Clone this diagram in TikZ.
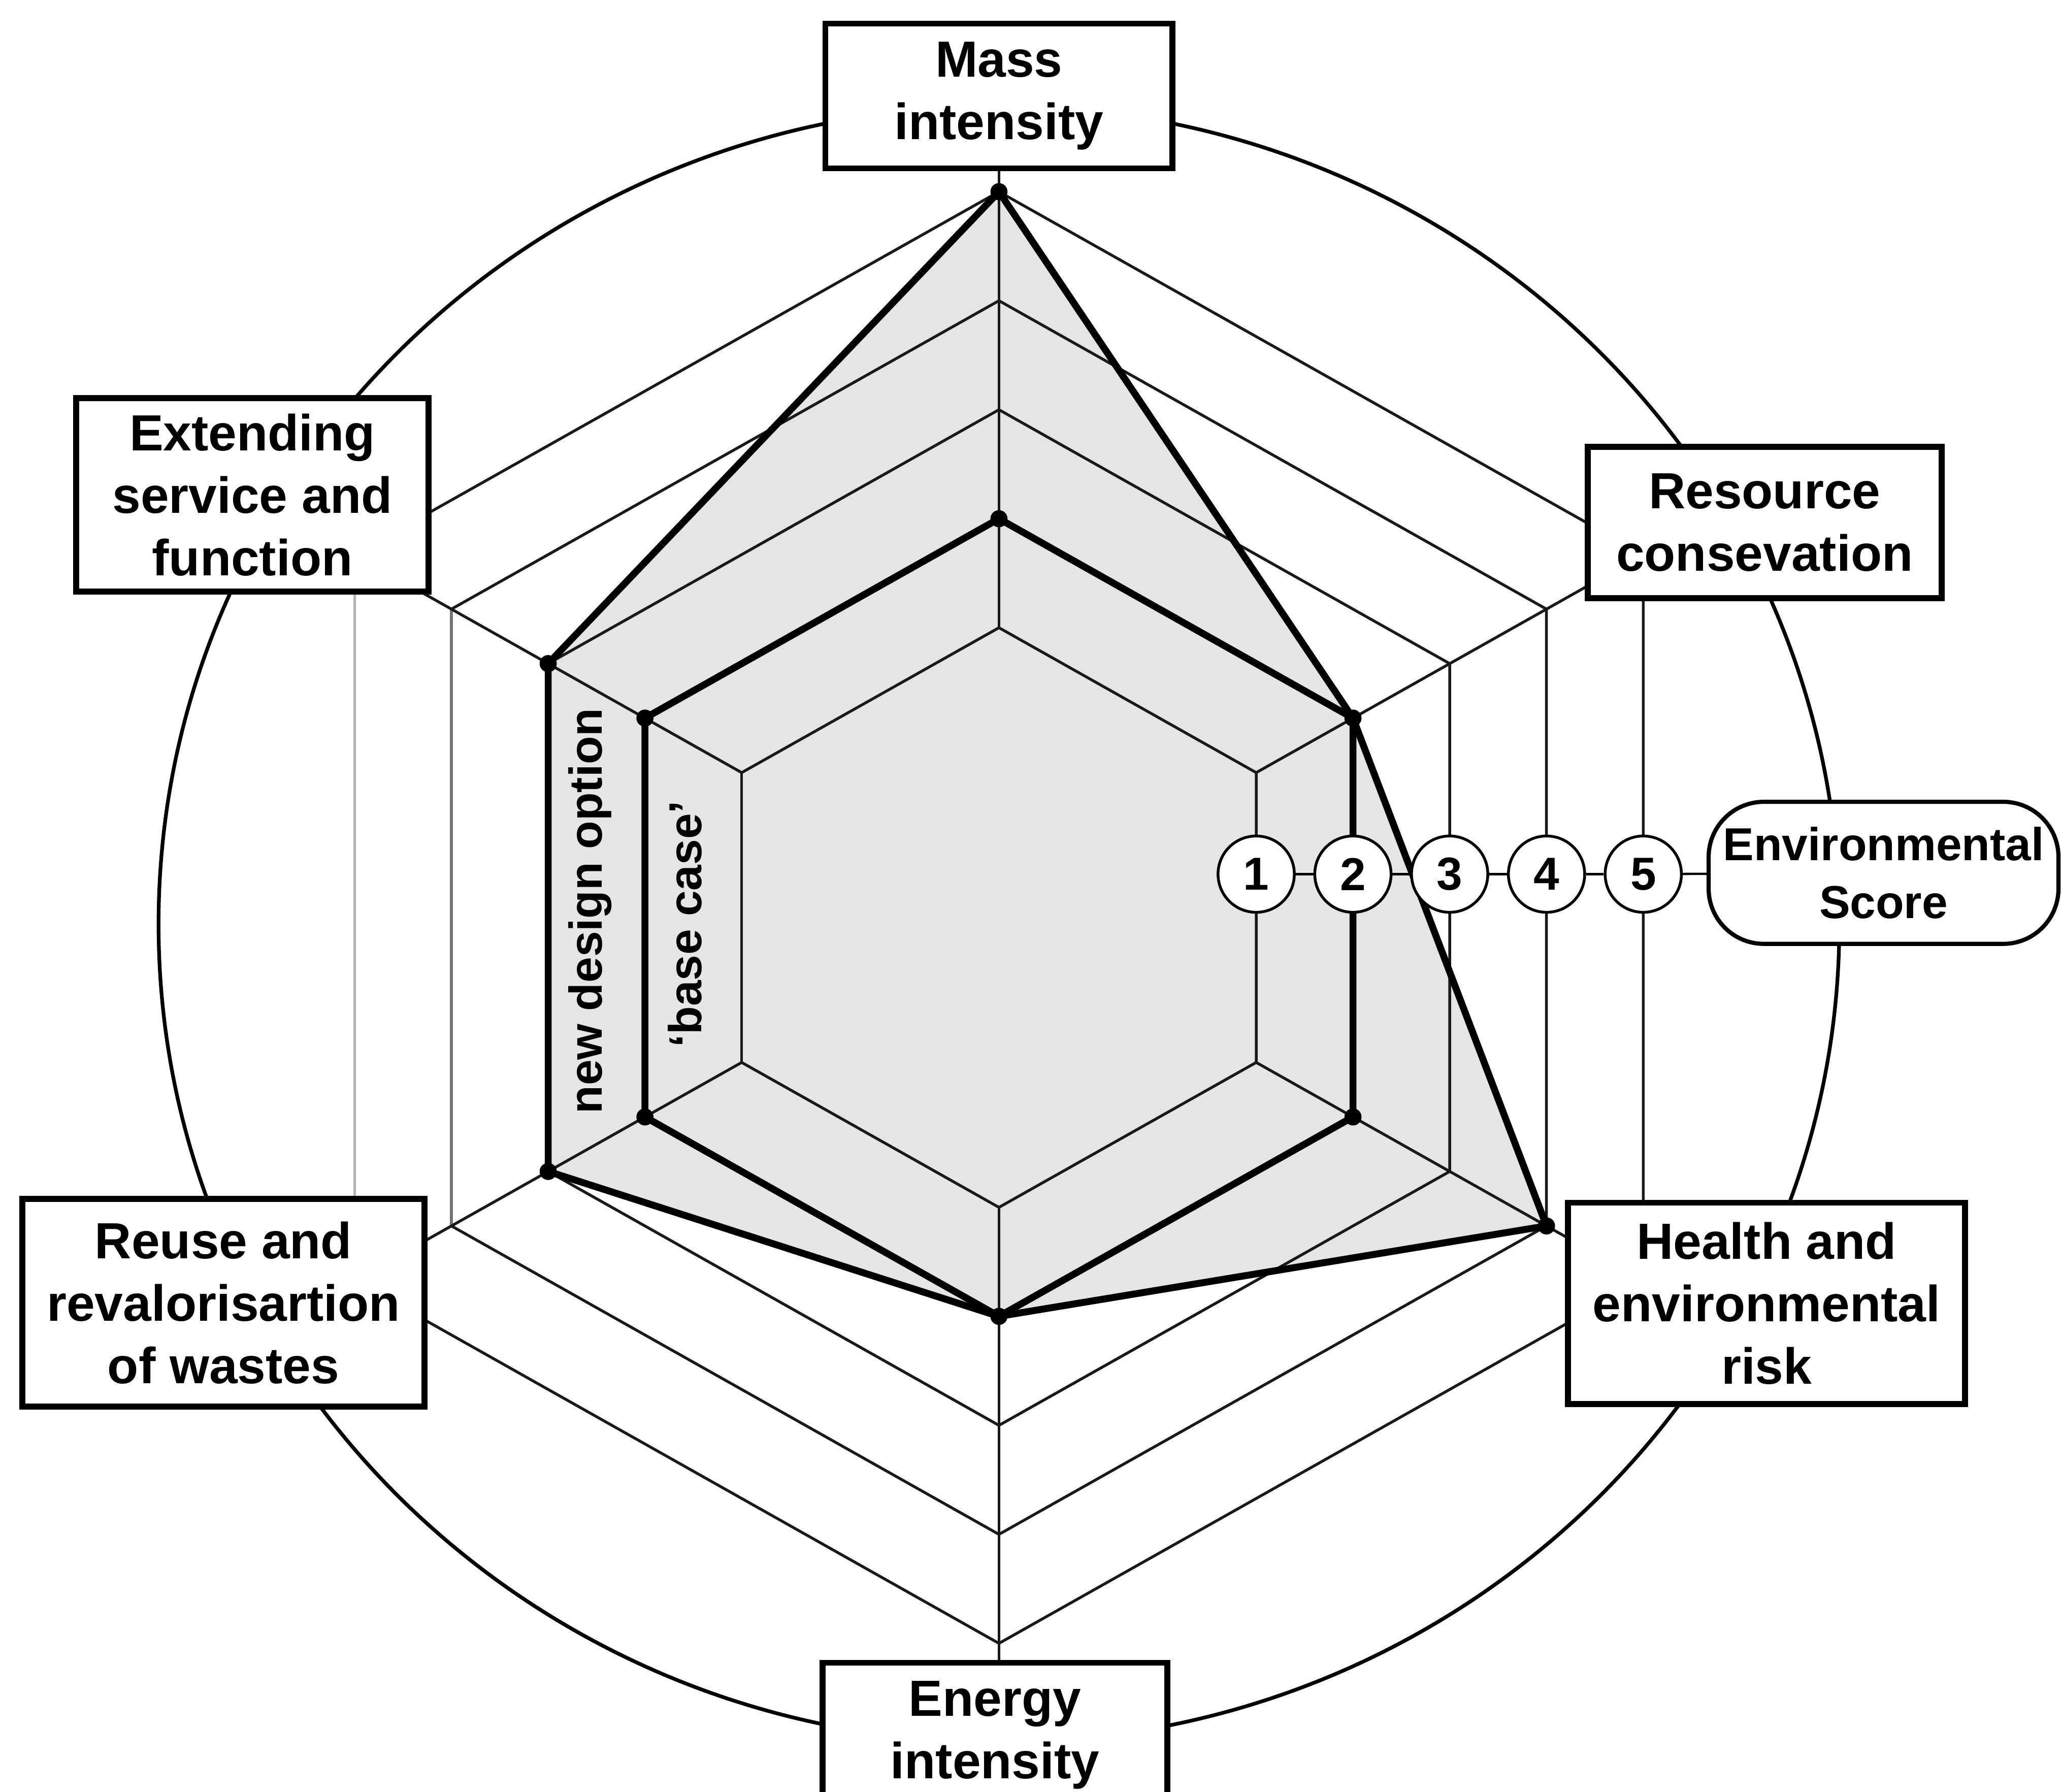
\documentclass[tikz,border=0pt]{standalone}
\usepackage{fontspec}
\setmainfont{Liberation Sans}
\usetikzlibrary{backgrounds}
\begin{document}
\begin{tikzpicture}[x=0.01cm, y=-0.01cm,
  grid/.style={line width=0.6pt, draw=black!90},
  profile/.style={line width=1.5pt, line join=round},
  axisbox/.style={draw, line width=1.3pt, fill=white, align=center, inner sep=0pt,
    font=\fontsize{11}{13.5}\selectfont\bfseries},
  scorebox/.style={draw, line width=0.9pt, fill=white, align=center, inner sep=0pt,
    rounded corners=0.42cm, font=\fontsize{10}{12.5}\selectfont\bfseries},
  scorec/.style={draw, circle, line width=0.6pt, fill=white, minimum size=0.58cm,
    inner sep=0pt, font=\fontsize{10}{12}\selectfont\bfseries},
  tag/.style={rotate=90, inner sep=0pt, font=\fontsize{10}{12}\selectfont\bfseries},
  link/.style={line width=0.5pt}
]
\useasboundingbox (0,0) rectangle (1568,1363);

% radar rings: level k has circumradius 141+85k
\begin{scope}[shift={(760,698)}, x=0.01cm, y=0.00975cm]
  \foreach \k in {1,...,5}{
    \pgfmathsetmacro{\rad}{141+85*\k}
    \foreach \a in {30,90,150,210,270,330}{
      \coordinate (h\k-\a) at (\a:\rad);
    }
  }
\end{scope}
\coordinate (cc) at (760,703);

% criteria boxes
\node[axisbox, minimum width=2.64cm, minimum height=1.10cm] (mass) at (760,73) {Mass\\intensity};
\node[axisbox, minimum width=2.68cm, minimum height=1.47cm] (ext) at (192,376.5) {Extending\\service and\\function};
\node[axisbox, minimum width=2.69cm, minimum height=1.15cm] (res) at (1342.5,397.5) {Resource\\consevation};
\node[axisbox, minimum width=3.02cm, minimum height=1.53cm] (health) at (1344,991.5) {Health and\\environmental\\risk};
\node[axisbox, minimum width=3.06cm, minimum height=1.58cm] (reuse) at (170,991) {Reuse and\\revalorisartion\\of wastes};
\node[axisbox, minimum width=2.62cm, minimum height=1.10cm] (energy) at (757,1320) {Energy\\intensity};

% score scale
\node[scorebox, minimum width=2.66cm, minimum height=1.08cm] (score) at (1433,664) {Environmental\\Score};
\node[scorec] (s1) at (955.7,665) {1};
\node[scorec] (s2) at (1029.3,665) {2};
\node[scorec] (s3) at (1102.9,665) {3};
\node[scorec] (s4) at (1176.6,665) {4};
\node[scorec] (s5) at (1250.2,665) {5};
\draw[link] (s1) -- (s2);
\draw[link] (s2) -- (s3);
\draw[link] (s3) -- (s4);
\draw[link] (s4) -- (s5);
\draw[link] (s5) -- (score);

% profile labels
\node[tag] (newlab) at (449,693) {new design option};
\node[tag] (baselab) at (521,703) {‘base case’};

\begin{pgfonlayer}{background}
  % shaded area of the new design option
  \fill[gray!20] (h5-90) -- (h2-30) -- (h4-330) -- (h2-270) -- (h3-210) -- (h3-150) -- cycle;
  % concentric hexagons
  \foreach \k in {1,...,5}{
    \draw[grid, line join=miter] (h\k-150) -- (h\k-90) -- (h\k-30) -- (h\k-330) -- (h\k-270) -- (h\k-210);
  }
  \draw[grid] (h1-150) -- (h1-210);
  \draw[grid] (h2-150) -- (h2-210);
  \draw[grid] (h3-150) -- (h3-210);
  \draw[grid, draw=black!55] (h4-150) -- (h4-210);
  \draw[grid, draw=black!30] (h5-150) -- (h5-210);
  % spokes
  \foreach \a in {30,90,150,210,270,330}{
    \draw[grid] (h1-\a) -- (h5-\a);
  }
  \draw[grid] (h5-90) -- (mass.south);
  \draw[grid] (h5-270) -- (h5-270 |- energy.north);
  % outer circle
  \draw[line width=0.8pt] (cc) ellipse [x radius=6.39cm, y radius=6.22cm];
  % profiles
  \draw[profile] (h2-90) -- (h2-30) -- (h2-330) -- (h2-270) -- (h2-210) -- (h2-150) -- cycle;
  \draw[profile] (h5-90) -- (h2-30) -- (h4-330) -- (h2-270) -- (h3-210) -- (h3-150) -- cycle;
  \foreach \p in {h5-90,h2-30,h4-330,h2-270,h3-210,h3-150,h2-90,h2-330,h2-210,h2-150}{
    \fill (\p) circle[radius=0.065cm];
  }
\end{pgfonlayer}
\end{tikzpicture}
\end{document}
